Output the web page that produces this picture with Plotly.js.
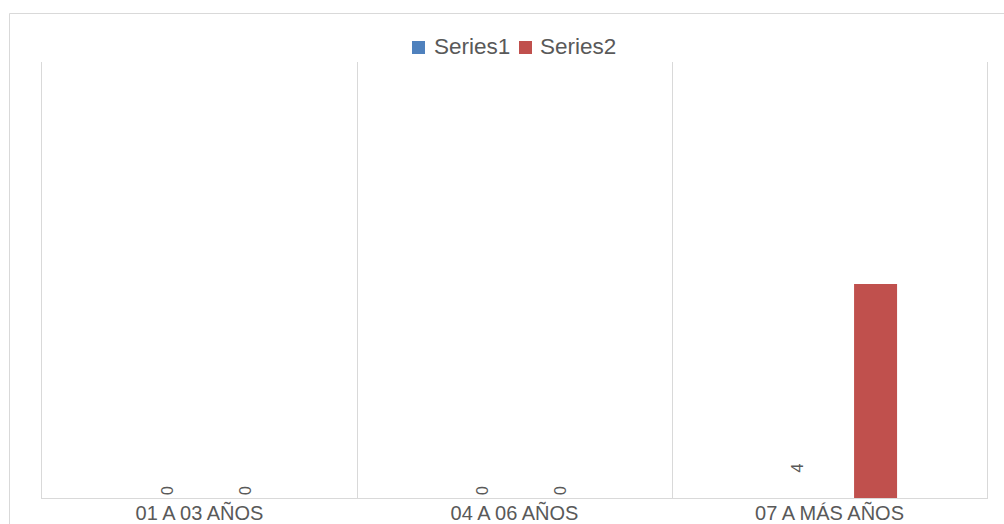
<!DOCTYPE html>
<html>
<head>
<meta charset="utf-8">
<script src="https://cdn.plot.ly/plotly-3.0.1.min.js"></script>
<style>html,body{margin:0;padding:0;background:#fff;}#chart{width:1004px;height:524px;}</style>
</head>
<body>
<div id="chart"></div>
<script>
var categories = ["01 A 03 AÑOS", "04 A 06 AÑOS", "07 A MÁS AÑOS"];
var seriesNames = ["Series1", "Series2"];
var seriesColors = ["#4F81BD", "#C0504D"];
var series1 = [0, 0, 4];
var series2 = [0, 0, 38];
var series2Labels = ["0", "0", ""];

var font = "Liberation Sans, Arial, sans-serif";
var gray = "#595959";

// plot area in pixels: x 42..987, y 62..498
function px2x(px) { return (px - 42) / 945; }
function px2y(py) { return (498 - py) / 436; }

var trace1 = {
  type: "bar", name: seriesNames[0], x: categories, y: series1,
  marker: {color: [seriesColors[0], seriesColors[0], "rgba(0,0,0,0)"]},
  width: 0.1365, offset: -0.17,
  text: series1.map(String), textposition: "outside", textangle: -90,
  textfont: {family: font, size: 16, color: gray},
  cliponaxis: false, showlegend: false
};
var trace2 = {
  type: "bar", name: seriesNames[1], x: categories, y: series2,
  marker: {color: seriesColors[1]},
  width: 0.1365, offset: 0.078,
  text: series2Labels, textposition: "outside", textangle: -90,
  textfont: {family: font, size: 16, color: gray},
  cliponaxis: false, showlegend: false
};

// legend drawn as swatches + real text
var legendSwatchX = [412, 519];
var legendTextX = [432, 538];
var shapes = [{
  type: "rect", xref: "paper", yref: "paper", layer: "below",
  x0: px2x(9.5), x1: 1.2, y0: -0.3, y1: px2y(13.5),
  line: {color: "#d9d9d9", width: 1}, fillcolor: "rgba(0,0,0,0)"
}];
var annotations = [];
for (var i = 0; i < seriesNames.length; i++) {
  shapes.push({
    type: "rect", xref: "paper", yref: "paper",
    x0: px2x(legendSwatchX[i]), x1: px2x(legendSwatchX[i] + 13),
    y0: px2y(54), y1: px2y(41),
    line: {width: 0}, fillcolor: seriesColors[i]
  });
  annotations.push({
    xref: "paper", yref: "paper", x: px2x(legendTextX[i]), y: px2y(46),
    xanchor: "left", yanchor: "middle", showarrow: false,
    text: seriesNames[i], font: {family: font, size: 22.5, color: gray}
  });
}

var layout = {
  width: 1004, height: 524,
  margin: {l: 42, r: 17, t: 62, b: 26},
  paper_bgcolor: "#ffffff", plot_bgcolor: "#ffffff",
  barmode: "overlay",
  showlegend: false,
  xaxis: {
    type: "category", range: [-0.5, 2.5], tickson: "boundaries",
    showgrid: true, gridcolor: "#d9d9d9", gridwidth: 1,
    showline: true, linecolor: "#d9d9d9", linewidth: 1,
    ticks: "", ticklabelstandoff: -3,
    tickfont: {family: font, size: 20, color: gray},
    fixedrange: true
  },
  yaxis: {
    range: [0, 77.4], showgrid: false, zeroline: false,
    showticklabels: false, ticks: "",
    showline: true, mirror: true, linecolor: "#d9d9d9", linewidth: 1,
    fixedrange: true
  },
  shapes: shapes,
  annotations: annotations
};

Plotly.newPlot("chart", [trace1, trace2], layout, {displayModeBar: false, staticPlot: true});
</script>
</body>
</html>
